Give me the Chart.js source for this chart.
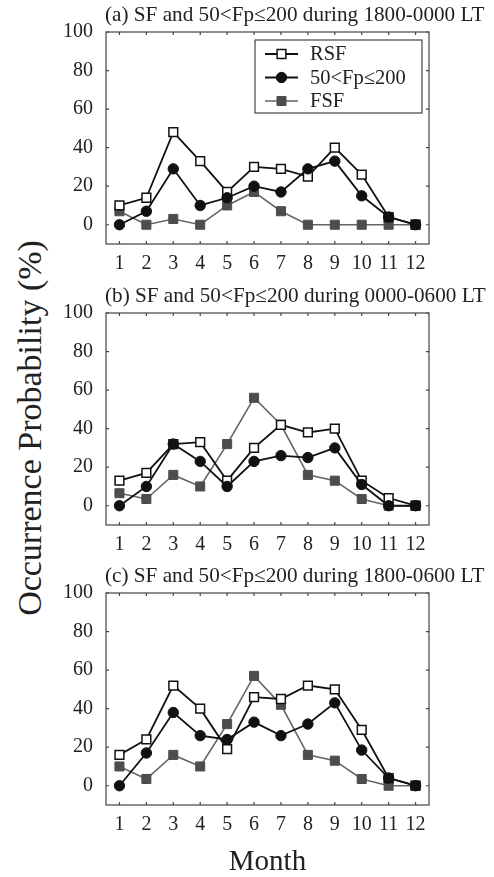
<!DOCTYPE html>
<html>
<head>
	<meta charset="utf-8">
	<title>Occurrence Probability</title>
	<script src="https://cdn.jsdelivr.net/npm/chart.js@4.4.1/dist/chart.umd.min.js"></script>
	<style>
		body { margin: 0; background: #fff; width: 494px; height: 877px; position: relative; overflow: hidden; }
		.panel { position: absolute; left: 0; }
		#ytitle {
			position: absolute; left: 30px; top: 428px;
			transform: translate(-50%, -50%) rotate(-90deg);
			font: 34px "Liberation Serif", serif; color: #222; white-space: nowrap;
		}
	</style>
</head>
<body>
	<div id="ytitle">Occurrence Probability (%)</div>
	<canvas id="chartA" class="panel" width="494" height="280" style="top:0px"></canvas>
	<canvas id="chartB" class="panel" width="494" height="280" style="top:281px"></canvas>
	<canvas id="chartC" class="panel" width="494" height="316" style="top:561px"></canvas>
<script>
var months = ['1', '2', '3', '4', '5', '6', '7', '8', '9', '10', '11', '12'];
var y_ticks = [0, 20, 40, 60, 80, 100];

// (a) 1800-0000 LT
var rsf_a = [10, 14, 48, 33, 17, 30, 29, 25, 40, 26, 4, 0];
var fp_a = [0, 7, 29, 10, 14, 20, 17, 29, 33, 15, 4, 0];
var fsf_a = [7, 0, 3, 0, 10, 17, 7, 0, 0, 0, 0, 0];

// (b) 0000-0600 LT
var rsf_b = [13, 17, 32, 33, 13, 30, 42, 38, 40, 13, 4, 0];
var fp_b = [0, 10, 32, 23, 10, 23, 26, 25, 30, 11, 0, 0];
var fsf_b = [6.5, 3.5, 16, 10, 32, 56, 42, 16, 13, 3.5, 0, 0];

// (c) 1800-0600 LT
var rsf_c = [16, 24, 52, 40, 19, 46, 45, 52, 50, 29, 4, 0];
var fp_c = [0, 17, 38, 26, 24, 33, 26, 32, 43, 18.5, 4, 0];
var fsf_c = [10, 3.5, 16, 10, 32, 57, 42, 16, 13, 3.5, 0, 0];

var serif = '"Liberation Serif", "Times New Roman", serif';
var text_color = '#222';

// box around the plot area with small inward ticks on all four sides
var panelFrame = {
	id: 'panelFrame',
	beforeDatasetsDraw: function(chart) {
		var a = chart.chartArea, ctx = chart.ctx;
		var xs = chart.scales.x, ys = chart.scales.y;
		ctx.save();
		ctx.strokeStyle = '#444';
		ctx.lineWidth = 1.2;
		ctx.strokeRect(a.left, a.top, a.right - a.left, a.bottom - a.top);
		ctx.beginPath();
		for (var i = 0; i < xs.ticks.length; i++) {
			var px = xs.getPixelForTick(i);
			ctx.moveTo(px, a.bottom); ctx.lineTo(px, a.bottom - 3);
			ctx.moveTo(px, a.top); ctx.lineTo(px, a.top + 3);
		}
		ys.ticks.forEach(function(t) {
			var py = ys.getPixelForValue(t.value);
			ctx.moveTo(a.left, py); ctx.lineTo(a.left + 3, py);
			ctx.moveTo(a.right, py); ctx.lineTo(a.right - 3, py);
		});
		ctx.stroke();
		ctx.restore();
	}
};

// panel heading, left aligned with the plot box
var panelHeading = {
	id: 'panelHeading',
	afterDraw: function(chart, args, opts) {
		var a = chart.chartArea, ctx = chart.ctx;
		ctx.save();
		ctx.font = '21.2px ' + serif;
		ctx.fillStyle = text_color;
		ctx.textAlign = 'left';
		ctx.textBaseline = 'middle';
		ctx.fillText(opts.text, a.left - 1, a.top - 17);
		ctx.restore();
	}
};

// framed legend in the upper right corner of the plot box
var boxLegend = {
	id: 'boxLegend',
	afterDatasetsDraw: function(chart, args, opts) {
		if (!opts.display) return;
		var a = chart.chartArea, ctx = chart.ctx;
		var w = 167, h = 73;
		var bx = a.right - 7 - w, by = a.top + 8;
		ctx.save();
		ctx.fillStyle = '#fff';
		ctx.fillRect(bx, by, w, h);
		ctx.strokeStyle = '#444';
		ctx.lineWidth = 1.2;
		ctx.strokeRect(bx, by, w, h);
		chart.data.datasets.forEach(function(ds, i) {
			var cy = by + 14 + i * 23.5;
			ctx.strokeStyle = ds.borderColor;
			ctx.lineWidth = ds.borderWidth;
			ctx.beginPath();
			ctx.moveTo(bx + 10, cy);
			ctx.lineTo(bx + 43, cy);
			ctx.stroke();
			ctx.fillStyle = ds.pointBackgroundColor;
			ctx.strokeStyle = ds.pointBorderColor;
			ctx.lineWidth = ds.pointBorderWidth;
			Chart.helpers.drawPoint(ctx, {
				pointStyle: ds.pointStyle, radius: ds.pointRadius,
				rotation: 0, borderWidth: ds.pointBorderWidth
			}, bx + 26.5, cy);
			ctx.fillStyle = text_color;
			ctx.font = '20.5px ' + serif;
			ctx.textAlign = 'left';
			ctx.textBaseline = 'middle';
			ctx.fillText(ds.label, bx + 55, cy + 1);
		});
		ctx.restore();
	}
};

function make_panel(id, heading, rsf, fp, fsf, with_legend, with_month) {
	var canvas = document.getElementById(id);
	var x_height = canvas.height - 32 - 212;
	return new Chart(canvas.getContext('2d'), {
		type: 'line',
		data: {
			labels: months,
			datasets: [{
					label: 'RSF',
					data: rsf,
					order: 1,
					borderColor: '#111',
					borderWidth: 1.8,
					pointStyle: 'rect',
					pointRadius: 6.2,
					pointBackgroundColor: '#fff',
					pointBorderColor: '#111',
					pointBorderWidth: 1.5
				},
				{
					label: '50<Fp\u2264200',
					data: fp,
					order: 0,
					borderColor: '#111',
					borderWidth: 1.8,
					pointStyle: 'circle',
					pointRadius: 5.2,
					pointBackgroundColor: '#111',
					pointBorderColor: '#111',
					pointBorderWidth: 1
				},
				{
					label: 'FSF',
					data: fsf,
					order: 2,
					borderColor: '#666',
					borderWidth: 1.6,
					pointStyle: 'rect',
					pointRadius: 6.4,
					pointBackgroundColor: '#4d4d4d',
					pointBorderColor: '#4d4d4d',
					pointBorderWidth: 1
				}
			]
		},
		options: {
			responsive: false,
			animation: false,
			devicePixelRatio: 1,
			layout: { padding: { left: 56, right: 65, top: 32, bottom: 0 } },
			plugins: {
				legend: { display: false },
				tooltip: { enabled: false },
				panelHeading: { text: heading },
				boxLegend: { display: with_legend }
			},
			scales: {
				x: {
					type: 'category',
					offset: true,
					grid: { display: false },
					border: { display: false },
					ticks: {
						color: text_color,
						font: { family: serif, size: 20 },
						padding: 0,
						autoSkip: false,
						maxRotation: 0
					},
					title: {
						display: with_month,
						text: 'Month',
						color: text_color,
						font: { family: serif, size: 29, lineHeight: 1 },
						padding: 0
					},
					afterFit: function(s) { s.height = x_height; }
				},
				y: {
					min: -10,
					max: 100,
					grid: { display: false },
					border: { display: false },
					ticks: {
						color: text_color,
						font: { family: serif, size: 20 },
						padding: 5
					},
					afterBuildTicks: function(s) {
						s.ticks = y_ticks.map(function(v) { return { value: v }; });
					},
					afterFit: function(s) { s.width = 50; }
				}
			}
		},
		plugins: [panelFrame, panelHeading, boxLegend]
	});
}

make_panel('chartA', '(a) SF and 50<Fp\u2264200 during 1800-0000 LT', rsf_a, fp_a, fsf_a, true, false);
make_panel('chartB', '(b) SF and 50<Fp\u2264200 during 0000-0600 LT', rsf_b, fp_b, fsf_b, false, false);
make_panel('chartC', '(c) SF and 50<Fp\u2264200 during 1800-0600 LT', rsf_c, fp_c, fsf_c, false, true);
</script>
</body>
</html>
